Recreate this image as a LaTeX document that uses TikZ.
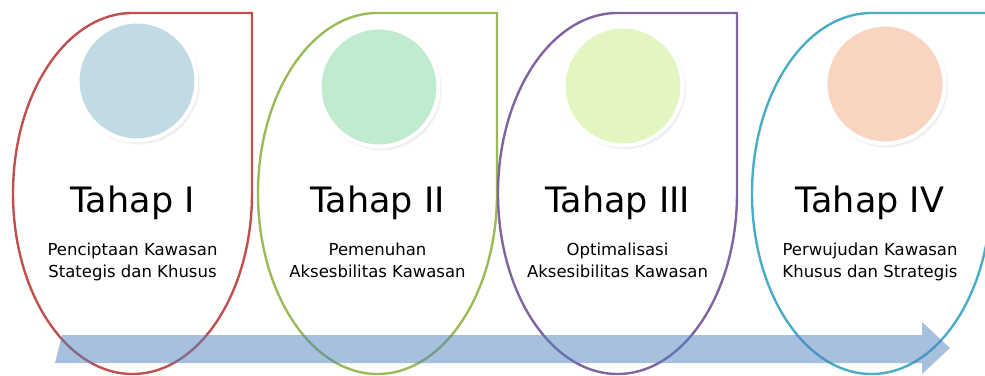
\documentclass[tikz,border=0pt]{standalone}
\usepackage{fontspec}
\setmainfont{DejaVu Sans}
\usepackage{tikz}
\usetikzlibrary{shadows,positioning}

\definecolor{stageRed}{HTML}{C0504D}
\definecolor{stageGreen}{HTML}{9BBB59}
\definecolor{stagePurple}{HTML}{8064A2}
\definecolor{stageTeal}{HTML}{4BACC6}
\definecolor{discBlue}{HTML}{C1DAE3}
\definecolor{discMint}{HTML}{C1EBCF}
\definecolor{discLime}{HTML}{E3F5C1}
\definecolor{discPeach}{HTML}{F9D4C1}
\definecolor{flowBlue}{HTML}{4F81BD}

\begin{document}
\begin{tikzpicture}[x=1pt,y=1pt,
  drop/.style={line width=2.4pt,line join=miter},
  disc/.style={circle,draw=white,line width=4pt,minimum size=119pt,inner sep=0pt,
    circular drop shadow={opacity=.45,shadow xshift=1.5pt,shadow yshift=-2pt,shadow scale=1.04}},
  title/.style={font=\fontsize{35}{40}\selectfont,anchor=base,inner sep=0pt},
  note/.style={font=\fontsize{16.5}{22}\selectfont,align=center,anchor=north,inner sep=0pt}]
  \useasboundingbox (0,0) rectangle (985,375);
  % stage I
  \draw[drop,stageRed] (132.5,362) -- (252,362) -- (252,181.5)
    arc[start angle=0,end angle=-270,x radius=119.5,y radius=180.5] -- cycle;
  \node[disc,fill=discBlue] (d1) at (137,294) {};
  \node[title] (t1) at (132.5,162) {Tahap I};
  \node[note] (n1) at (132.5,132.5) {Penciptaan Kawasan\\Stategis dan Khusus};
  % stage II
  \draw[drop,stageGreen] (377.5,362) -- (497,362) -- (497,181.5)
    arc[start angle=0,end angle=-270,x radius=119.5,y radius=180.5] -- cycle;
  \node[disc,fill=discMint] (d2) at (379,288) {};
  \node[title] (t2) at (377.5,162) {Tahap II};
  \node[note] (n2) at (377.5,132.5) {Pemenuhan\\Aksesbilitas Kawasan};
  % stage III
  \draw[drop,stagePurple] (617.5,362) -- (737,362) -- (737,181.5)
    arc[start angle=0,end angle=-270,x radius=119.5,y radius=180.5] -- cycle;
  \node[disc,fill=discLime] (d3) at (623,289) {};
  \node[title] (t3) at (617.5,162) {Tahap III};
  \node[note] (n3) at (617.5,132.5) {Optimalisasi\\Aksesibilitas Kawasan};
  % stage IV
  \draw[drop,stageTeal] (871.5,362) -- (991,362) -- (991,181.5)
    arc[start angle=0,end angle=-270,x radius=119.5,y radius=180.5] -- cycle;
  \node[disc,fill=discPeach] (d4) at (885,291) {};
  \node[title] (t4) at (870,162) {Tahap IV};
  \node[note] (n4) at (870,132.5) {Perwujudan Kawasan\\Khusus dan Strategis};
  % time arrow
  \fill[flowBlue,opacity=.5] (55,12) -- (62,40) -- (922,40) -- (922,53) -- (950,27)
    -- (922,1) -- (922,12) -- cycle;
\end{tikzpicture}
\end{document}
